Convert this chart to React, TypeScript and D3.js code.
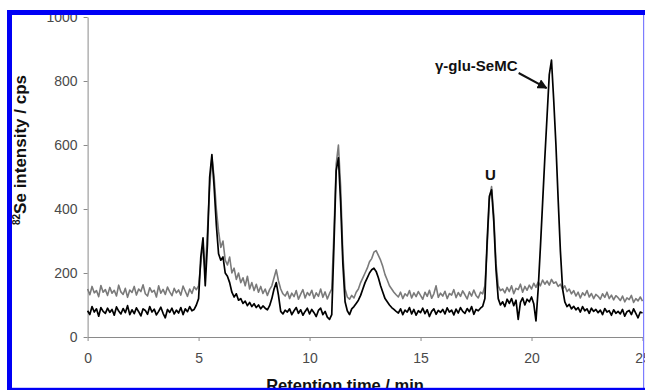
import { useRef, useEffect } from 'react';
import * as d3 from 'd3';

// sampled every 0.1 min from 0 to 25 min
const STEP = 0.1;

// grey trace (upper baseline)
const greyTrace = [
  150, 132, 158, 138, 145, 126, 161, 140, 148, 130,
  155, 137, 146, 128, 162, 141, 133, 152, 124, 147,
  139, 158, 131, 150, 142, 163, 135, 128, 154, 140,
  146, 125, 160, 137, 149, 133, 156, 141, 129, 152,
  138, 147, 131, 159, 143, 127, 150, 136, 157, 148,
  160, 230, 290, 200, 330, 470, 560, 500, 400, 330,
  280, 300, 240, 225, 250, 200, 215, 180, 200, 170,
  185, 160, 190, 150, 170, 145, 165, 140, 158, 136,
  150, 130, 148, 160, 185, 210, 175, 150, 135, 128,
  142, 120, 137, 126, 145, 118, 134, 148, 122, 139,
  130, 146, 121, 138, 127, 150, 124, 141, 119, 136,
  150, 330, 540, 600, 470, 260, 150, 125, 118, 130,
  122, 140, 150, 170, 185, 200, 215, 235, 245, 265,
  270, 255, 240, 220, 195, 178, 160, 150, 140, 132,
  125, 140, 120, 135, 128, 145, 122, 138, 126, 142,
  130, 118, 140, 127, 146, 121, 135, 160, 124, 137,
  128, 143, 120, 136, 131, 148, 123, 139, 127, 144,
  132, 119, 141, 128, 147, 130, 122, 140, 135, 160,
  280, 430, 470, 380, 230, 160, 145, 150, 138, 155,
  142, 160, 135, 152, 148, 165, 140, 158, 146, 162,
  150, 168, 155, 172, 160, 178, 165, 175, 162, 180,
  168, 172, 158, 165, 150, 160, 142, 150, 135, 145,
  128, 140, 122, 138, 130, 145, 125, 136, 120, 133,
  127, 118, 135, 124, 140, 120, 131, 116, 129, 123,
  114, 128, 110, 122, 117, 130, 108, 120, 113, 125,
  112,
];

// black trace (lower baseline)
const blackTrace = [
  82, 70, 95, 78, 88, 65, 92, 80, 74, 90,
  77, 86, 68, 94, 81, 72, 89, 76, 98, 70,
  85, 73, 91, 79, 66, 88, 83, 71, 95, 78,
  87, 69, 80, 93, 74, 60, 86, 77, 90, 72,
  84, 75, 92, 70, 88, 79, 95, 82, 86, 100,
  120, 250, 310, 160, 290, 500, 570, 470, 350, 260,
  240, 250, 200, 190, 170, 140, 125, 135, 115, 120,
  105, 112, 98, 108, 95, 104, 92, 100, 88, 97,
  90, 85, 98, 120, 150, 170, 130, 80, 72, 84,
  78, 88, 70, 82, 92, 74, 85, 68, 80, 90,
  72, 86, 76, 64, 83, 90, 70, 80, 62, 55,
  70, 290, 520, 560, 420, 230, 110, 82, 70, 88,
  95, 105, 115, 130, 150, 170, 185, 200, 210, 215,
  205, 185, 160, 140, 120, 110, 100, 92, 86, 80,
  75, 88, 70, 84, 78, 92, 72, 86, 68, 82,
  76, 90, 73, 85, 64, 80, 88, 71, 83, 77,
  86, 72, 91, 78, 84, 69, 87, 75, 92, 80,
  74, 89, 79, 95, 71, 86, 82, 90, 96, 120,
  300, 440, 460, 360, 210, 120, 100, 110, 95, 118,
  105, 120, 98, 115, 55, 108, 122, 100, 118, 110,
  125, 104, 50, 150, 280, 420, 560, 690, 820, 865,
  740, 600, 430, 270, 150, 110, 95, 102, 88, 96,
  85, 92, 78, 95, 82, 88, 74, 90, 80, 86,
  76, 84, 70, 89, 78, 82, 68, 85, 74, 80,
  72, 86, 65, 79, 83, 70, 88, 74, 60, 78,
  75,
];

const xTicks = [0, 5, 10, 15, 20, 25];
const yTicks = [0, 200, 400, 600, 800, 1000];

const FONT = "Arial, 'Liberation Sans', sans-serif";

export default function App() {
  const svgRef = useRef<SVGSVGElement>(null);

  useEffect(() => {
    if (!svgRef.current) return;
    const svg = d3.select(svgRef.current);
    svg.selectAll('*').remove();

    const width = 645;
    const height = 390;

    const x = d3.scaleLinear().domain([0, 25]).range([87.6, 642.5]);
    const y = d3.scaleLinear().domain([0, 1000]).range([337, 17]);

    svg.append('rect').attr('width', width).attr('height', height).attr('fill', '#fff');

    const axisColor = '#8a8a8a';
    const labelColor = '#4a4a4a';

    // Y axis
    const yAxis = svg
      .append('g')
      .attr('transform', `translate(${x(0)},0)`)
      .call(
        d3
          .axisLeft(y)
          .tickValues(yTicks)
          .tickFormat(d3.format('d'))
          .tickSize(4)
          .tickPadding(6)
          .tickSizeOuter(0),
      );
    yAxis.select('.domain').attr('stroke', axisColor);
    yAxis.selectAll('line').attr('stroke', axisColor);
    yAxis
      .selectAll('text')
      .attr('fill', labelColor)
      .attr('font-size', 14)
      .attr('font-family', FONT);

    // X axis
    const xAxis = svg
      .append('g')
      .attr('transform', `translate(0,${y(0)})`)
      .call(
        d3
          .axisBottom(x)
          .tickValues(xTicks)
          .tickFormat(d3.format('d'))
          .tickSize(4)
          .tickPadding(12)
          .tickSizeOuter(0),
      );
    xAxis.select('.domain').attr('stroke', axisColor);
    xAxis.selectAll('line').attr('stroke', axisColor);
    xAxis
      .selectAll('text')
      .attr('fill', labelColor)
      .attr('font-size', 14)
      .attr('font-family', FONT);

    const line = d3
      .line<number>()
      .x((_, i) => x(i * STEP))
      .y((d) => y(d));

    svg
      .append('path')
      .datum(greyTrace)
      .attr('d', line)
      .attr('fill', 'none')
      .attr('stroke', '#7a7a7a')
      .attr('stroke-width', 1.6)
      .attr('stroke-linejoin', 'round');

    svg
      .append('path')
      .datum(blackTrace)
      .attr('d', line)
      .attr('fill', 'none')
      .attr('stroke', '#000')
      .attr('stroke-width', 1.7)
      .attr('stroke-linejoin', 'round');

    // annotations
    svg
      .append('text')
      .attr('x', x(19.37))
      .attr('y', y(832))
      .attr('text-anchor', 'end')
      .attr('font-family', FONT)
      .attr('font-weight', 'bold')
      .attr('font-size', 15)
      .attr('fill', '#111')
      .text('γ-glu-SeMC');

    svg
      .append('defs')
      .append('marker')
      .attr('id', 'arrow')
      .attr('viewBox', '0 0 10 10')
      .attr('refX', 9)
      .attr('refY', 5)
      .attr('markerWidth', 5)
      .attr('markerHeight', 5)
      .attr('orient', 'auto')
      .append('path')
      .attr('d', 'M0,0 L10,5 L0,10 Z')
      .attr('fill', '#111');

    svg
      .append('line')
      .attr('x1', x(19.42))
      .attr('y1', y(825))
      .attr('x2', x(20.68))
      .attr('y2', y(778))
      .attr('stroke', '#111')
      .attr('stroke-width', 2)
      .attr('marker-end', 'url(#arrow)');

    svg
      .append('text')
      .attr('x', x(18.15))
      .attr('y', y(492))
      .attr('text-anchor', 'middle')
      .attr('font-family', FONT)
      .attr('font-weight', 'bold')
      .attr('font-size', 15)
      .attr('fill', '#111')
      .text('U');

    // axis titles
    const yTitle = svg
      .append('text')
      .attr('transform', `translate(26,150) rotate(-90)`)
      .attr('text-anchor', 'middle')
      .attr('font-family', FONT)
      .attr('font-weight', 'bold')
      .attr('font-size', 17)
      .attr('fill', '#111');
    yTitle.append('tspan').attr('font-size', 10).attr('dy', -6).text('82');
    yTitle.append('tspan').attr('dy', 6).text('Se intensity / cps');

    svg
      .append('text')
      .attr('x', 345)
      .attr('y', 391)
      .attr('text-anchor', 'middle')
      .attr('font-family', FONT)
      .attr('font-weight', 'bold')
      .attr('font-size', 16.5)
      .attr('fill', '#111')
      .text('Retention time / min');

    // blue frame
    svg.append('rect').attr('x', 0).attr('y', 0).attr('width', width).attr('height', 10).attr('fill', '#fff');
    svg.append('rect').attr('x', 0).attr('y', 0).attr('width', 7).attr('height', height).attr('fill', '#fff');
    svg.append('rect').attr('x', 7).attr('y', 10).attr('width', width - 7).attr('height', 5).attr('fill', '#0000f5');
    svg.append('rect').attr('x', 7).attr('y', 10).attr('width', 5).attr('height', height - 10).attr('fill', '#0000f5');
    svg.append('rect').attr('x', 643).attr('y', 15).attr('width', 1.2).attr('height', height - 15).attr('fill', '#7c7cff');
    svg.append('rect').attr('x', 7).attr('y', 387.8).attr('width', width - 7).attr('height', 2.2).attr('fill', '#0000f5');
  }, []);

  return (
    <svg
      ref={svgRef}
      width={645}
      height={390}
      style={{ position: 'fixed', left: 0, top: 0, display: 'block' }}
    />
  );
}
